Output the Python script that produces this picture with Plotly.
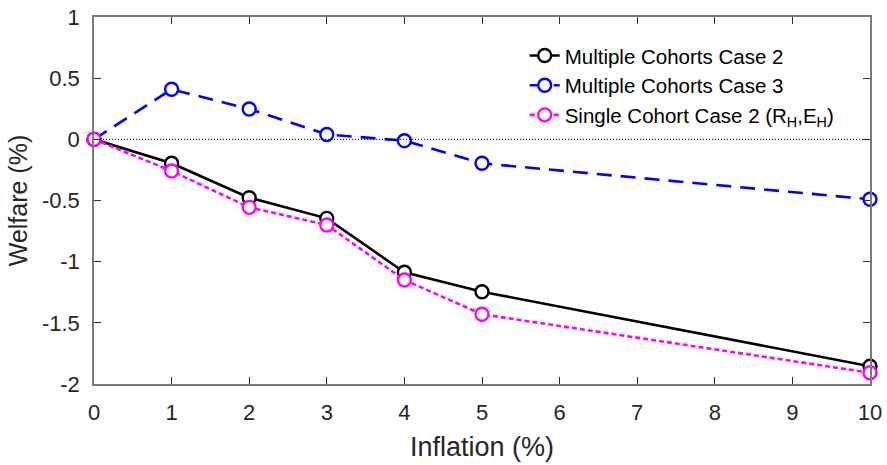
import plotly.graph_objects as go

# Inflation rates (%) and welfare changes (%) for each scenario
inflation = [0, 1, 2, 3, 4, 5, 10]
mc_case2 = [0.0, -0.196, -0.477, -0.646, -1.087, -1.246, -1.855]
mc_case3 = [0.0, 0.409, 0.248, 0.040, -0.011, -0.196, -0.490]
sc_case2 = [0.0, -0.259, -0.556, -0.700, -1.150, -1.430, -1.908]

names = [
    "Multiple Cohorts Case 2",
    "Multiple Cohorts Case 3",
    "Single Cohort Case 2 (R<sub>H</sub>,E<sub>H</sub>)",
]

x_ticks = list(range(0, 11))
y_ticks = [-2, -1.5, -1, -0.5, 0, 0.5, 1]
y_tick_text = ["-2", "-1.5", "-1", "-0.5", "0", "0.5", "1"]

FONT = "Liberation Sans, Arial, sans-serif"
TXT = "#262626"
AX = "#7a7a7a"

fig = go.Figure()

styles = [
    (mc_case2, "#000000", "solid"),
    (mc_case3, "#0000ff", "15px,9px"),
    (sc_case2, "#ff00ff", "5px,3px"),
]
for (vals, color, dash), name in zip(styles, names):
    fig.add_trace(go.Scatter(
        x=inflation, y=vals, name=name, mode="lines+markers",
        line=dict(color=color, width=2.6, dash=dash),
        marker=dict(symbol="circle", size=13, color="white",
                    line=dict(color=color, width=2.4)),
        cliponaxis=False,
    ))

# dotted reference line at zero welfare change
fig.add_shape(type="line", xref="paper", yref="y", x0=0, x1=1, y0=0, y1=0,
              line=dict(color="black", width=1, dash="1px,2px"), layer="above")

fig.update_layout(
    width=887, height=465,
    margin=dict(l=94, r=17, t=17, b=81),
    plot_bgcolor="white", paper_bgcolor="white",
    font=dict(family=FONT, size=21, color=TXT),
    showlegend=True,
    legend=dict(x=0.555, y=0.949, xanchor="left", yanchor="top",
                bgcolor="rgba(0,0,0,0)", borderwidth=0,
                font=dict(size=20.5, color="#000000"),
                tracegroupgap=0),
)

fig.update_xaxes(
    range=[0, 10], tickvals=x_ticks, ticks="inside", ticklen=7,
    tickcolor="#333333", tickwidth=1,
    showline=True, linecolor=AX, linewidth=1.5, mirror="ticks",
    showgrid=False, zeroline=False, automargin=False,
    tickfont=dict(size=22, color=TXT), ticklabelstandoff=8,
    title=dict(text="Inflation (%)", font=dict(size=27, color=TXT), standoff=13),
)
fig.update_yaxes(
    range=[-2, 1], tickvals=y_ticks, ticktext=y_tick_text, ticks="inside",
    ticklen=7, tickcolor="#333333", tickwidth=1,
    showline=True, linecolor=AX, linewidth=1.5, mirror="ticks",
    showgrid=False, zeroline=False, automargin=False,
    tickfont=dict(size=22, color=TXT), ticklabelstandoff=8,
    title=dict(text="Welfare (%)", font=dict(size=25, color=TXT), standoff=7),
)

fig.write_html("out.html")
